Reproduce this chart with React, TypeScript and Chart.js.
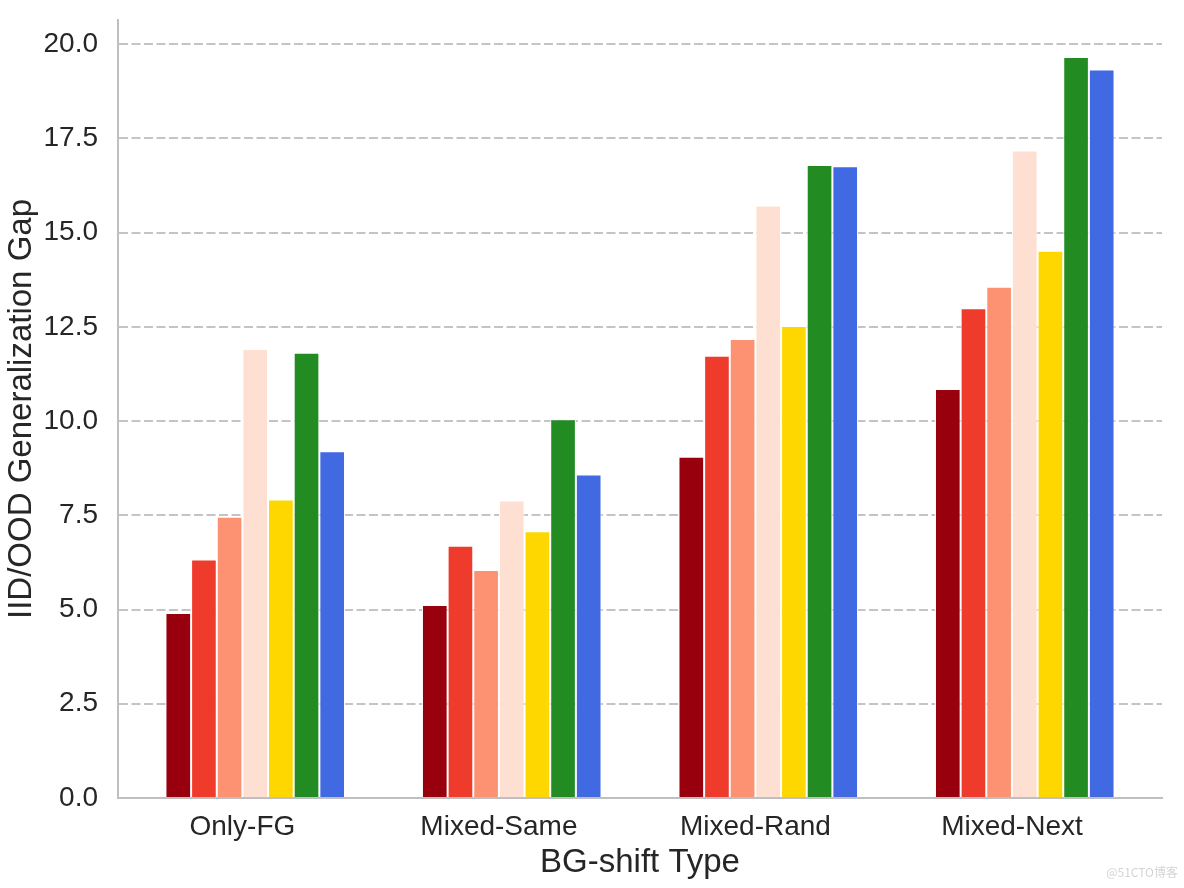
import React, { useEffect, useRef } from 'react';
import { Chart, registerables } from 'chart.js';

Chart.register(...registerables);

// Category labels (x axis)
const categories = ['Only-FG', 'Mixed-Same', 'Mixed-Rand', 'Mixed-Next'];

// Y tick values
const yTickValues = [0, 2.5, 5, 7.5, 10, 12.5, 15, 17.5, 20];

// Series values (one per category). The first hue slot is empty in the original.
const emptySlot = [null, null, null, null];
const seriesA = [4.91, 5.12, 9.05, 10.85];
const seriesB = [6.33, 6.69, 11.73, 12.99];
const seriesC = [7.46, 6.05, 12.18, 13.56];
const seriesD = [11.91, 7.89, 15.72, 17.18];
const seriesE = [7.92, 7.08, 12.52, 14.52];
const seriesF = [11.81, 10.05, 16.79, 19.66];
const seriesG = [9.2, 8.58, 16.76, 19.33];

const seriesNames = ['', 'A', 'B', 'C', 'D', 'E', 'F', 'G'];
const seriesColors = ['#ffffff', '#99000d', '#ef3b2c', '#fc9272', '#fee0d2', '#ffd700', '#228b22', '#4169e1'];

const FONT = "'Liberation Sans', Arial, Helvetica, sans-serif";
const TEXT = '#262626';

export default function App() {
  const ref = useRef<HTMLCanvasElement>(null);

  useEffect(() => {
    document.body.style.margin = '0';
    const canvas = ref.current;
    if (!canvas) return;
    const allSeries = [emptySlot, seriesA, seriesB, seriesC, seriesD, seriesE, seriesF, seriesG];
    const chart = new Chart(canvas, {
      type: 'bar',
      data: {
        datasets: allSeries.map((vals, i) => ({
          label: seriesNames[i],
          data: vals.map((v, j) => ({ x: j, y: v })),
          backgroundColor: seriesColors[i],
          borderColor: '#ffffff',
          borderWidth: 1,
          categoryPercentage: 0.8,
          barPercentage: 1,
        })),
      },
      options: {
        responsive: false,
        animation: false,
        layout: { padding: { top: 20, right: 22, left: 0, bottom: 0 } },
        plugins: {
          legend: { display: false },
          tooltip: { enabled: false },
        },
        scales: {
          x: {
            type: 'linear',
            offset: false,
            min: -0.485,
            max: 3.585,
            afterBuildTicks: (s: any) => {
              s.ticks = categories.map((_, i) => ({ value: i }));
            },
            afterFit: (s: any) => {
              s.height = 90;
              s.paddingLeft = 0;
              s.paddingRight = 0;
            },
            ticks: {
              autoSkip: false,
              maxRotation: 0,
              padding: 12,
              color: TEXT,
              font: { family: FONT, size: 28 },
              callback: (v: any) => categories[Math.round(Number(v))] ?? '',
            },
            grid: { display: false, drawTicks: false, offset: false },
            border: { display: true, color: '#bfbfbf', width: 2 },
            title: {
              display: true,
              text: 'BG-shift Type',
              color: TEXT,
              font: { family: FONT, size: 33 },
              padding: { top: 0, bottom: 5 },
            },
          },
          y: {
            min: 0,
            max: 20.64,
            afterBuildTicks: (s: any) => {
              s.ticks = yTickValues.map((v) => ({ value: v }));
            },
            afterFit: (s: any) => {
              s.width = 118;
              s.paddingTop = 0;
              s.paddingBottom = 0;
            },
            ticks: {
              padding: 20,
              color: TEXT,
              font: { family: FONT, size: 28 },
              callback: (v: any) => Number(v).toFixed(1),
            },
            grid: { color: '#c4c4c4', lineWidth: 2, drawTicks: false },
            border: { display: true, color: '#bfbfbf', width: 2, dash: [9, 3.5] },
            title: {
              display: true,
              text: 'IID/OOD Generalization Gap',
              color: TEXT,
              font: { family: FONT, size: 33 },
              padding: { top: 2, bottom: 0 },
            },
          },
        },
      },
    } as any);
    return () => chart.destroy();
  }, []);

  return (
    <div style={{ position: 'relative', width: 1184, height: 888, background: '#ffffff' }}>
      <canvas ref={ref} width={1184} height={888} style={{ display: 'block' }} />
      <div
        style={{
          position: 'absolute',
          right: 6,
          bottom: 8,
          fontFamily: "'Noto Sans CJK SC', sans-serif",
          fontSize: 12,
          color: '#d4d4d4',
        }}
      >
        @51CTO博客
      </div>
    </div>
  );
}
